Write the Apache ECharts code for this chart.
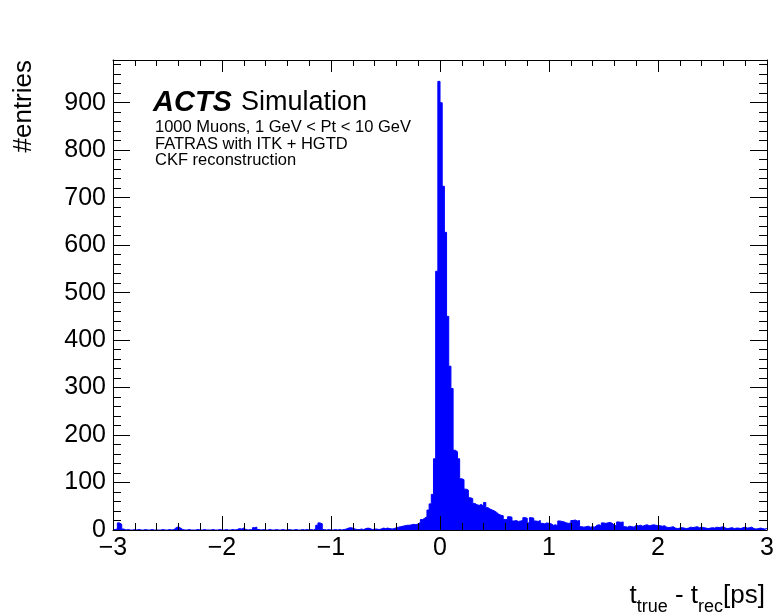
<!DOCTYPE html>
<html><head><meta charset="utf-8">
<script src="https://cdn.jsdelivr.net/npm/echarts@6/dist/echarts.min.js"></script>
<style>html,body{margin:0;padding:0;background:#fff}#c{width:777px;height:613px}</style>
</head><body><div id="c"></div>
<script>
// histogram definition
const histMin = -3;
const histMax = 3;
const binWidth = 0.02;
// bin counts, 50 bins per unit
const countsM3 = [1,2,15,12,2,0,1,0,0,1, 0,1,0,0,1,0,0,1,0,0, 0,0,1,0,0,1,0,1,5,7, 4,1,0,0,1,0,0,0,1,0, 0,1,0,0,0,1,0,0,1,0];
const countsM2 = [0,1,0,0,1,0,1,3,2,4, 1,0,1,0,5,6,1,0,1,0, 0,1,0,0,1,0,0,1,0,0, 1,0,0,1,0,0,1,0,1,0, 1,0,3,10,15,13,1,0,1,0];
const countsM1 = [0,1,0,1,0,1,2,4,5,4, 2,1,1,2,1,3,4,3,1,2, 2,1,2,4,3,4,3,2,3,5, 6,7,8,9,10,10,11,12,11,13, 16,22,25,28,42,55,75,150,545,945];
const countsP0 = [900,724,627,450,345,298,168,165,150,108, 106,86,84,68,66,56,53,52,54,50, 58,47,44,42,40,37,33,31,30,22, 22,28,27,19,20,18,19,20,26,25, 15,26,25,19,18,20,14,13,15,14];
const countsP1 = [13,10,11,9,19,18,17,15,14,15, 20,21,19,20,7,6,7,8,6,7, 6,10,11,9,15,14,15,16,14,10, 9,17,16,17,7,6,8,7,6,10, 9,10,8,10,11,9,10,11,10,9];
const countsP2 = [9,8,9,6,5,6,7,4,3,4, 5,4,3,4,6,5,6,7,5,6, 5,4,3,4,5,4,6,5,6,7, 4,3,4,5,3,4,4,3,5,6, 4,5,6,3,2,3,4,3,2,3];
const yMax = 990;
const xInterval = 1;
const yInterval = 100;

const counts = [].concat(countsM3, countsM2, countsM1, countsP0, countsP1, countsP2);
const points = counts.map((c, i) => [+(histMin + i * binWidth).toFixed(4), c]);
points.push([histMax, counts[counts.length - 1]]);

const FONT = 'Liberation Sans, Arial, Helvetica, sans-serif';
const fmtX = v => (v < 0 ? '\u2212' + Math.abs(v) : String(v));

const axisCommon = {
  axisLine: { show: true, onZero: false, lineStyle: { color: '#000', width: 1 } },
  splitLine: { show: false },
  minorSplitLine: { show: false },
  z: 10
};

const chart = echarts.init(document.getElementById('c'), null, { renderer: 'canvas' });
chart.setOption({
  animation: false,
  backgroundColor: '#fff',
  grid: { left: 113, right: 9, top: 60, bottom: 83 },
  xAxis: [
    Object.assign({}, axisCommon, {
      type: 'value', min: histMin, max: histMax, interval: xInterval, position: 'bottom',
      axisTick: { show: true, inside: true, length: 14, lineStyle: { color: '#000', width: 1 } },
      minorTick: { show: true, splitNumber: 5, length: 7, lineStyle: { color: '#000', width: 1 } },
      axisLabel: { show: true, fontSize: 25, color: '#000', fontFamily: FONT, margin: 6, formatter: fmtX }
    }),
    Object.assign({}, axisCommon, {
      type: 'value', min: histMin, max: histMax, interval: xInterval, position: 'top',
      axisTick: { show: true, inside: true, length: 12, lineStyle: { color: '#000', width: 1 } },
      minorTick: { show: true, splitNumber: 5, length: 6, lineStyle: { color: '#000', width: 1 } },
      axisLabel: { show: false }
    })
  ],
  yAxis: [
    Object.assign({}, axisCommon, {
      type: 'value', min: 0, max: yMax, interval: yInterval, position: 'left',
      axisTick: { show: true, inside: true, length: 17, lineStyle: { color: '#000', width: 1 } },
      minorTick: { show: true, splitNumber: 5, length: 8, lineStyle: { color: '#000', width: 1 } },
      axisLabel: { show: true, fontSize: 25, color: '#000', fontFamily: FONT, margin: 7,
        formatter: v => (v % yInterval === 0 ? String(v) : '') }
    }),
    Object.assign({}, axisCommon, {
      type: 'value', min: 0, max: yMax, interval: yInterval, position: 'right',
      axisTick: { show: true, inside: true, length: 17, lineStyle: { color: '#000', width: 1 } },
      minorTick: { show: true, splitNumber: 5, length: 8, lineStyle: { color: '#000', width: 1 } },
      axisLabel: { show: false }
    })
  ],
  series: [{
    type: 'line', xAxisIndex: 0, yAxisIndex: 0, step: 'end', data: points,
    symbol: 'none', showSymbol: false, silent: true, z: 2,
    lineStyle: { color: '#0000ff', width: 1 },
    itemStyle: { color: '#0000ff' },
    areaStyle: { color: '#0000ff', opacity: 1 }
  }],
  graphic: [
    { type: 'text', x: 24, y: 60, rotation: Math.PI / 2, z: 20,
      style: { text: '#entries', fontSize: 26, fontFamily: FONT, fill: '#000', align: 'right', verticalAlign: 'middle' } },
    { type: 'text', x: 765, y: 596, z: 20,
      style: {
        text: '{m|t}{s|true}{m| - t}{s|rec}{m|[ps]}',
        align: 'right', verticalAlign: 'middle', fill: '#000', fontFamily: FONT,
        rich: {
          m: { fontSize: 26, lineHeight: 26, verticalAlign: 'top', fontFamily: FONT, fill: '#000' },
          s: { fontSize: 18, lineHeight: 18, padding: [15, 0, 0, 0], verticalAlign: 'top', fontFamily: FONT, fill: '#000' }
        }
      } },
    { type: 'text', x: 153, y: 103, z: 20,
      style: {
        text: '{b|ACTS}{r|Simulation}', verticalAlign: 'middle', fill: '#000', fontFamily: FONT,
        rich: {
          b: { fontSize: 29, fontWeight: 'bold', fontStyle: 'italic', fontFamily: FONT, fill: '#000' },
          r: { fontSize: 27, fontFamily: FONT, fill: '#000', padding: [0, 0, 0, 9] }
        }
      } },
    { type: 'text', x: 155, y: 127.5, z: 20,
      style: { text: '1000 Muons, 1 GeV < Pt < 10 GeV', fontSize: 16.5, fontFamily: FONT, fill: '#000', verticalAlign: 'middle' } },
    { type: 'text', x: 155, y: 144.2, z: 20,
      style: { text: 'FATRAS with ITK + HGTD', fontSize: 16.5, fontFamily: FONT, fill: '#000', verticalAlign: 'middle' } },
    { type: 'text', x: 155, y: 160.9, z: 20,
      style: { text: 'CKF reconstruction', fontSize: 16.5, fontFamily: FONT, fill: '#000', verticalAlign: 'middle' } }
  ]
});
</script>
</body></html>
